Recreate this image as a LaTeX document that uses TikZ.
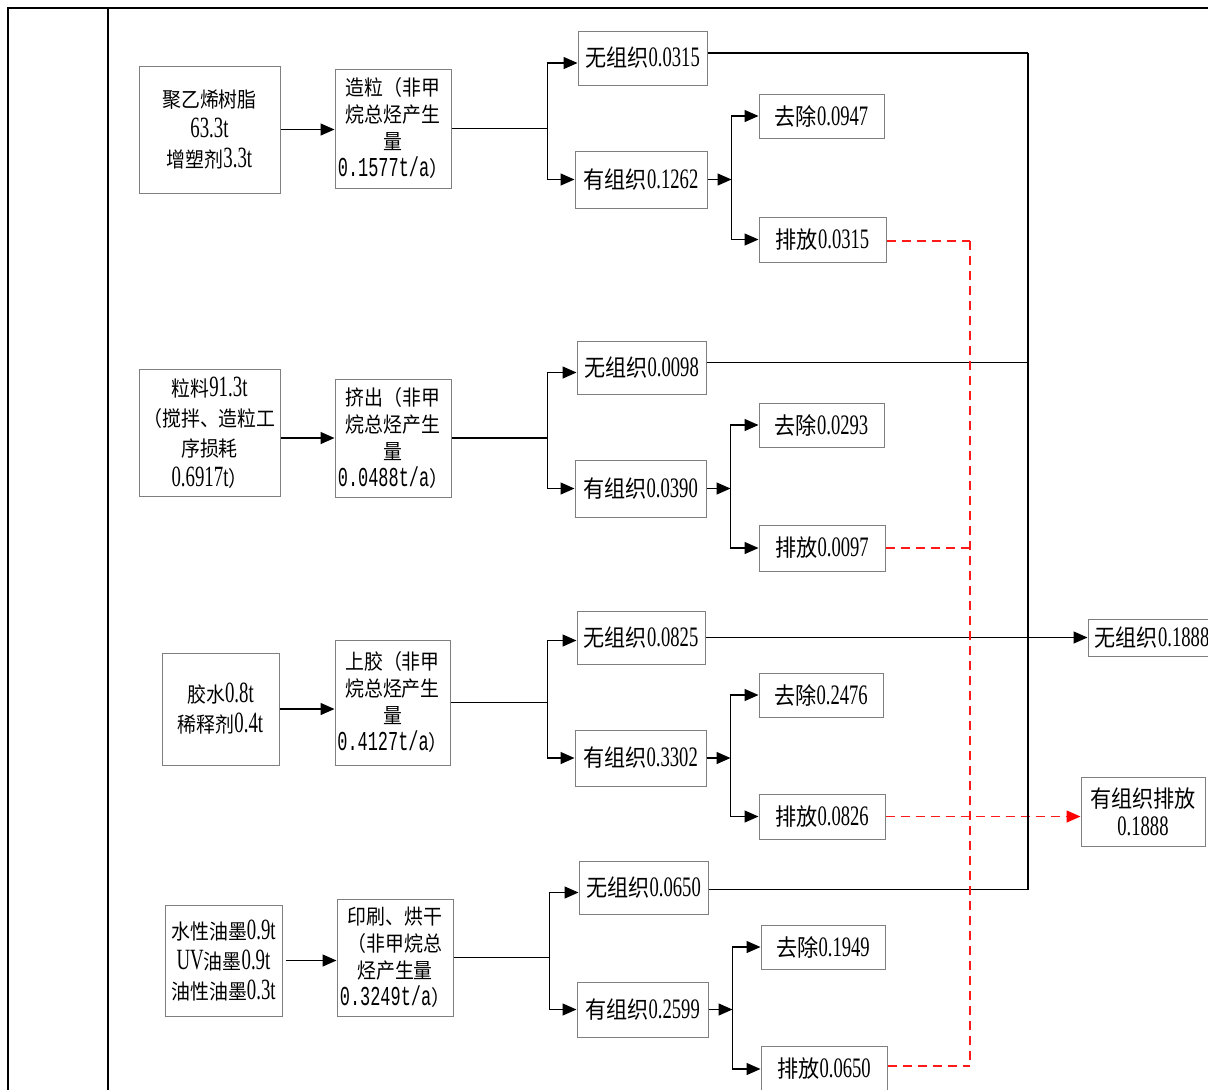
\documentclass[tikz,border=0pt]{standalone}
\usepackage{fontspec}
\setmainfont{Liberation Serif}[FakeStretch=0.66,Scale=1.2]
\newfontfamily\inlat{Liberation Serif}[FakeStretch=0.64,Scale=1.4]
\newfontfamily\zhf{Noto Sans CJK SC}[FakeStretch=0.9]
\newfontfamily\monof{Liberation Mono}[FakeStretch=0.62,Scale=1.3]
\newcommand\zhs[1]{{\zhf #1}}
\newcommand\mon[1]{{\monof #1}}
\usetikzlibrary{arrows.meta}
\definecolor{boxgray}{HTML}{7F7F7F}
\definecolor{dashred}{HTML}{FF1A1A}
\begin{document}
\begin{tikzpicture}[x=1pt,y=-1pt,
  box/.style={draw=boxgray,line width=1pt,inner sep=0pt,align=center},
  wh/.style 2 args={minimum width=#1pt,minimum height=#2pt},
  inb/.style={font=\inlat\fontsize{21}{30}\selectfont},
  prb/.style={font=\fontsize{21}{27}\selectfont},
  outb/.style={font=\fontsize{23.5}{28}\selectfont},
  arr/.style={-{Triangle[length=14pt,width=12pt]},line width=1.4pt},
  ln/.style={line width=1.4pt},
  reddash/.style={draw=dashred,dash pattern=on 9pt off 6pt,line width=1.4pt},
  redarr/.style={reddash,-{Triangle[length=14pt,width=12pt,fill=red,color=red]}}
]
\useasboundingbox (0,0) rectangle (1208,1090);
% frame
\draw[line width=2.5pt] (8,1100) -- (8,8) -- (1220,8);
\draw[line width=1.5pt] (108,8) -- (108,1100);
\coordinate (bx) at (1028,0);
\coordinate (rv) at (970,0);

% ---------- Row 1 ----------
\node[box,inb,wh={141}{127}] (in1) at (209.5,129.5) {\zhs{聚乙烯树脂}\\63.3t\\\zhs{增塑剂}3.3t};
\node[box,prb,wh={116}{119}] (pr1) at (393,128.5) {\zhs{造粒（非甲}\\\zhs{烷总烃产生}\\\zhs{量}\\\mon{0.1577t/a}\zhs{）}};
\node[box,outb,wh={129}{54}] (wu1) at (642.5,58) {\zhs{无组织}0.0315};
\node[box,outb,wh={132}{57}] (yo1) at (641,179.5) {\zhs{有组织}0.1262};
\node[box,outb,wh={125}{44}] (qu1) at (821.5,116) {\zhs{去除}0.0947};
\node[box,outb,wh={127}{45}] (pa1) at (822.5,239.5) {\zhs{排放}0.0315};
\draw[arr] (in1.east) -- (in1.east -| pr1.west);
\draw[ln] (pr1.east) -- ++(96,0) coordinate (j1);
\draw[arr] (j1) |- ([yshift=-5pt]wu1.west);
\draw[arr] (j1) |- (yo1.west);
\draw[arr] (yo1.east) -- ++(24,0) coordinate (k1);
\draw[arr] (k1) |- (qu1.west);
\draw[arr] (k1) |- (pa1.west);
\draw[ln] ([yshift=5pt]wu1.east) -- ([yshift=5pt]wu1.east -| bx);
\draw[reddash] ([yshift=-1.5pt]pa1.east) -- ([yshift=-1.5pt]pa1.east -| rv);

% ---------- Row 2 ----------
\node[box,inb,wh={141}{127}] (in2) at (209.5,432.5) {\zhs{粒料}91.3t\\\zhs{（搅拌、造粒工}\\\zhs{序损耗}\\0.6917t\zhs{）}};
\node[box,prb,wh={116}{118}] (pr2) at (393,438) {\zhs{挤出（非甲}\\\zhs{烷总烃产生}\\\zhs{量}\\\mon{0.0488t/a}\zhs{）}};
\node[box,outb,wh={129}{53}] (wu2) at (641.5,367.5) {\zhs{无组织}0.0098};
\node[box,outb,wh={131}{57}] (yo2) at (640.5,488.5) {\zhs{有组织}0.0390};
\node[box,outb,wh={125}{44}] (qu2) at (821.5,425) {\zhs{去除}0.0293};
\node[box,outb,wh={126}{46}] (pa2) at (822,548) {\zhs{排放}0.0097};
\draw[arr] (in2.east |- pr2.west) -- (pr2.west);
\draw[ln] (pr2.east) -- ++(96,0) coordinate (j2);
\draw[arr] (j2) |- ([yshift=-5pt]wu2.west);
\draw[arr] (j2) |- (yo2.west);
\draw[arr] (yo2.east) -- ++(24,0) coordinate (k2);
\draw[arr] (k2) |- (qu2.west);
\draw[arr] (k2) |- (pa2.west);
\draw[ln] ([yshift=5pt]wu2.east) -- ([yshift=5pt]wu2.east -| bx);
\draw[reddash] (pa2.east) -- (pa2.east -| rv);

% ---------- Row 3 ----------
\node[box,inb,wh={117}{112}] (in3) at (220.5,709) {\zhs{胶水}0.8t\\\zhs{稀释剂}0.4t};
\node[box,prb,wh={115}{125}] (pr3) at (392.5,702.5) {\zhs{上胶（非甲}\\\zhs{烷总烃产生}\\\zhs{量}\\\mon{0.4127t/a}\zhs{）}};
\node[box,outb,wh={128}{53}] (wu3) at (641,637.5) {\zhs{无组织}0.0825};
\node[box,outb,wh={131}{56}] (yo3) at (640.5,758) {\zhs{有组织}0.3302};
\node[box,outb,wh={124}{44}] (qu3) at (821,695) {\zhs{去除}0.2476};
\node[box,outb,wh={126}{45}] (pa3) at (822,816.5) {\zhs{排放}0.0826};
\node[box,outb,wh={126}{37}] (fw) at (1151,637.5) {\hspace*{2pt}\zhs{无组织}0.1888};
\node[box,outb,wh={124}{69}] (fy) at (1143,811.5) {\zhs{有组织排放}\\0.1888};
\draw[arr] (in3.east) -- (in3.east -| pr3.west);
\draw[ln] (pr3.east) -- ++(97,0) coordinate (j3);
\draw[arr] (j3) |- ([yshift=-3pt]wu3.west);
\draw[arr] (j3) |- (yo3.west);
\draw[arr] (yo3.east) -- ++(24,0) coordinate (k3);
\draw[arr] (k3) |- (qu3.west);
\draw[arr] (k3) |- (pa3.west);
\draw[arr] (wu3.east) -- (wu3.east -| fw.west);
\draw[redarr] (pa3.east) -- (pa3.east -| fy.west);

% ---------- Row 4 ----------
\node[box,inb,wh={117}{111}] (in4) at (223.5,960.5) {\zhs{水性油墨}0.9t\\UV\zhs{油墨}0.9t\\\zhs{油性油墨}0.3t};
\node[box,prb,wh={116}{117}] (pr4) at (395,957.5) {\zhs{印刷、烘干}\\\zhs{（非甲烷总}\\\zhs{烃产生量}\\\mon{0.3249t/a}\zhs{）}};
\node[box,outb,wh={129}{53}] (wu4) at (643.5,887.5) {\zhs{无组织}0.0650};
\node[box,outb,wh={131}{55}] (yo4) at (642.5,1009.5) {\zhs{有组织}0.2599};
\node[box,outb,wh={124}{44}] (qu4) at (823,947) {\zhs{去除}0.1949};
\node[box,outb,wh={126}{46}] (pa4) at (824,1069) {\zhs{排放}0.0650};
\draw[arr] ([xshift=3pt]in4.east) -- (in4.east -| pr4.west);
\draw[ln] (pr4.east) -- ++(96,0) coordinate (j4);
\draw[arr] (j4) |- ([yshift=-5pt]wu4.west);
\draw[arr] (j4) |- (yo4.west);
\draw[arr] (yo4.east) -- ++(24,0) coordinate (k4);
\draw[arr] (k4) |- (qu4.west);
\draw[arr] (k4) |- (pa4.west);
\draw[ln] ([yshift=-2pt]wu4.east) -- ([yshift=-2pt]wu4.east -| bx);
\draw[reddash] ([yshift=3pt]pa4.east) -- ([yshift=3pt]pa4.east -| rv);

% buses
\draw[line width=1.2pt] ([yshift=5pt]wu1.east -| bx) -- ([yshift=-2pt]wu4.east -| bx);
\draw[reddash] ([yshift=-1.5pt]pa1.east -| rv) -- ([yshift=3pt]pa4.east -| rv);
\end{tikzpicture}
\end{document}
